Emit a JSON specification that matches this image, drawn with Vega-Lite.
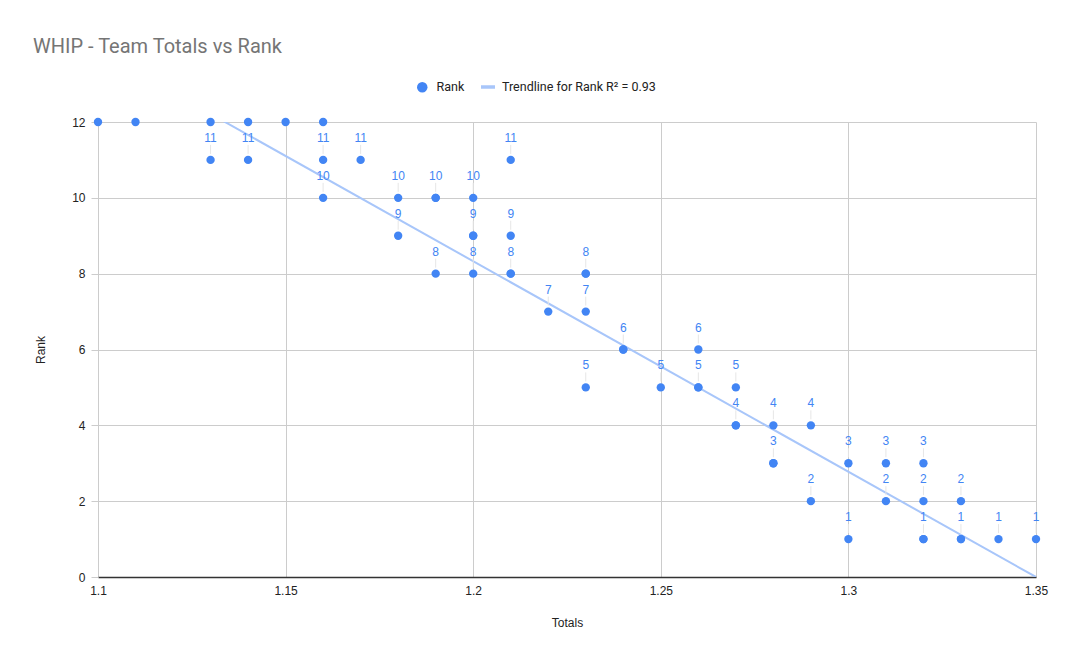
{
  "$schema": "https://vega.github.io/schema/vega-lite/v6.json",
  "autosize": {"type": "none"},
  "width": 938,
  "height": 455,
  "padding": {"left": 98, "top": 122, "right": 37, "bottom": 86},
  "background": "white",
  "title": {"text": "WHIP - Team Totals vs Rank", "anchor": "start", "frame": "group", "dx": -65, "offset": 21, "fontSize": 20, "font": "Roboto", "fontWeight": "normal", "color": "#757575"},
  "config": {
    "view": {"stroke": null},
    "axis": {"labelFont": "Liberation Sans", "titleFont": "Liberation Sans", "labelFontSize": 12, "titleFontSize": 12, "titleFontWeight": "normal", "labelColor": "#222222", "titleColor": "#222222", "gridColor": "#cccccc", "gridOpacity": 1},
    "legend": {"labelFont": "Roboto", "labelFontSize": 12.5, "labelColor": "#222222"}
  },
  "datasets": {
    "points": [
      {"Totals": 1.10, "Rank": 12}, {"Totals": 1.11, "Rank": 12}, {"Totals": 1.13, "Rank": 12}, {"Totals": 1.14, "Rank": 12}, {"Totals": 1.15, "Rank": 12}, {"Totals": 1.16, "Rank": 12},
      {"Totals": 1.13, "Rank": 11}, {"Totals": 1.14, "Rank": 11}, {"Totals": 1.16, "Rank": 11}, {"Totals": 1.17, "Rank": 11}, {"Totals": 1.21, "Rank": 11},
      {"Totals": 1.16, "Rank": 10}, {"Totals": 1.18, "Rank": 10}, {"Totals": 1.19, "Rank": 10}, {"Totals": 1.19, "Rank": 10}, {"Totals": 1.20, "Rank": 10},
      {"Totals": 1.18, "Rank": 9}, {"Totals": 1.20, "Rank": 9}, {"Totals": 1.20, "Rank": 9}, {"Totals": 1.21, "Rank": 9},
      {"Totals": 1.19, "Rank": 8}, {"Totals": 1.20, "Rank": 8}, {"Totals": 1.21, "Rank": 8}, {"Totals": 1.21, "Rank": 8}, {"Totals": 1.23, "Rank": 8}, {"Totals": 1.23, "Rank": 8},
      {"Totals": 1.22, "Rank": 7}, {"Totals": 1.23, "Rank": 7},
      {"Totals": 1.24, "Rank": 6}, {"Totals": 1.24, "Rank": 6}, {"Totals": 1.26, "Rank": 6},
      {"Totals": 1.23, "Rank": 5}, {"Totals": 1.25, "Rank": 5}, {"Totals": 1.26, "Rank": 5}, {"Totals": 1.26, "Rank": 5}, {"Totals": 1.27, "Rank": 5},
      {"Totals": 1.27, "Rank": 4}, {"Totals": 1.27, "Rank": 4}, {"Totals": 1.28, "Rank": 4}, {"Totals": 1.29, "Rank": 4},
      {"Totals": 1.28, "Rank": 3}, {"Totals": 1.28, "Rank": 3}, {"Totals": 1.30, "Rank": 3}, {"Totals": 1.31, "Rank": 3}, {"Totals": 1.32, "Rank": 3},
      {"Totals": 1.29, "Rank": 2}, {"Totals": 1.31, "Rank": 2}, {"Totals": 1.32, "Rank": 2}, {"Totals": 1.33, "Rank": 2},
      {"Totals": 1.30, "Rank": 1}, {"Totals": 1.32, "Rank": 1}, {"Totals": 1.32, "Rank": 1}, {"Totals": 1.33, "Rank": 1}, {"Totals": 1.33, "Rank": 1}, {"Totals": 1.34, "Rank": 1}, {"Totals": 1.35, "Rank": 1}
    ],
    "trend": [
      {"Totals": 1.10, "Rank": 13.88},
      {"Totals": 1.35, "Rank": 0.0}
    ]
  },
  "encoding": {
    "x": {"field": "Totals", "type": "quantitative", "scale": {"domain": [1.1, 1.35], "nice": false, "zero": false},
      "axis": {"values": [1.1, 1.15, 1.2, 1.25, 1.3, 1.35], "format": "~g", "title": "Totals", "ticks": false, "domainColor": "#333333", "domainWidth": 1.5, "labelPadding": 8, "titleY": 40, "labelFlush": false}},
    "y": {"field": "Rank", "type": "quantitative", "scale": {"domain": [0, 12], "nice": false},
      "axis": {"values": [0, 2, 4, 6, 8, 10, 12], "title": "Rank", "domain": false, "tickColor": "#cccccc", "tickSize": 7, "labelPadding": 6, "titleX": -51}}
  },
  "layer": [
    {
      "data": {"name": "trend"},
      "mark": {"type": "line", "clip": true, "strokeWidth": 2},
      "encoding": {"stroke": {"datum": "Trendline for Rank R² = 0.93", "scale": {"range": ["#a8c6fa"]},
        "legend": {"title": null, "orient": "none", "legendX": 381, "legendY": -44, "symbolType": "stroke", "symbolSize": 196, "symbolStrokeWidth": 3.5, "labelOffset": 5}}}
    },
    {
      "data": {"name": "points"},
      "transform": [{"filter": "datum.Rank < 12"}, {"aggregate": [{"op": "count", "as": "n"}], "groupby": ["Totals", "Rank"]}],
      "mark": {"type": "rule", "yOffset": -15, "y2Offset": -6, "color": "#e6e6e6", "strokeWidth": 1},
      "encoding": {"y2": {"field": "Rank"}}
    },
    {
      "data": {"name": "points"},
      "mark": {"type": "circle", "size": 70, "opacity": 1},
      "encoding": {"color": {"datum": "Rank", "scale": {"range": ["#4285f4"]},
        "legend": {"title": null, "orient": "none", "legendX": 318, "legendY": -41, "symbolSize": 110, "symbolOpacity": 1, "labelOffset": 8}}}
    },
    {
      "data": {"name": "points"},
      "transform": [{"filter": "datum.Rank < 12"}, {"aggregate": [{"op": "count", "as": "n"}], "groupby": ["Totals", "Rank"]}],
      "mark": {"type": "text", "dy": -22, "font": "Liberation Sans", "fontSize": 12, "color": "#4285f4", "baseline": "middle"},
      "encoding": {"text": {"field": "Rank", "type": "quantitative"}}
    }
  ]
}
